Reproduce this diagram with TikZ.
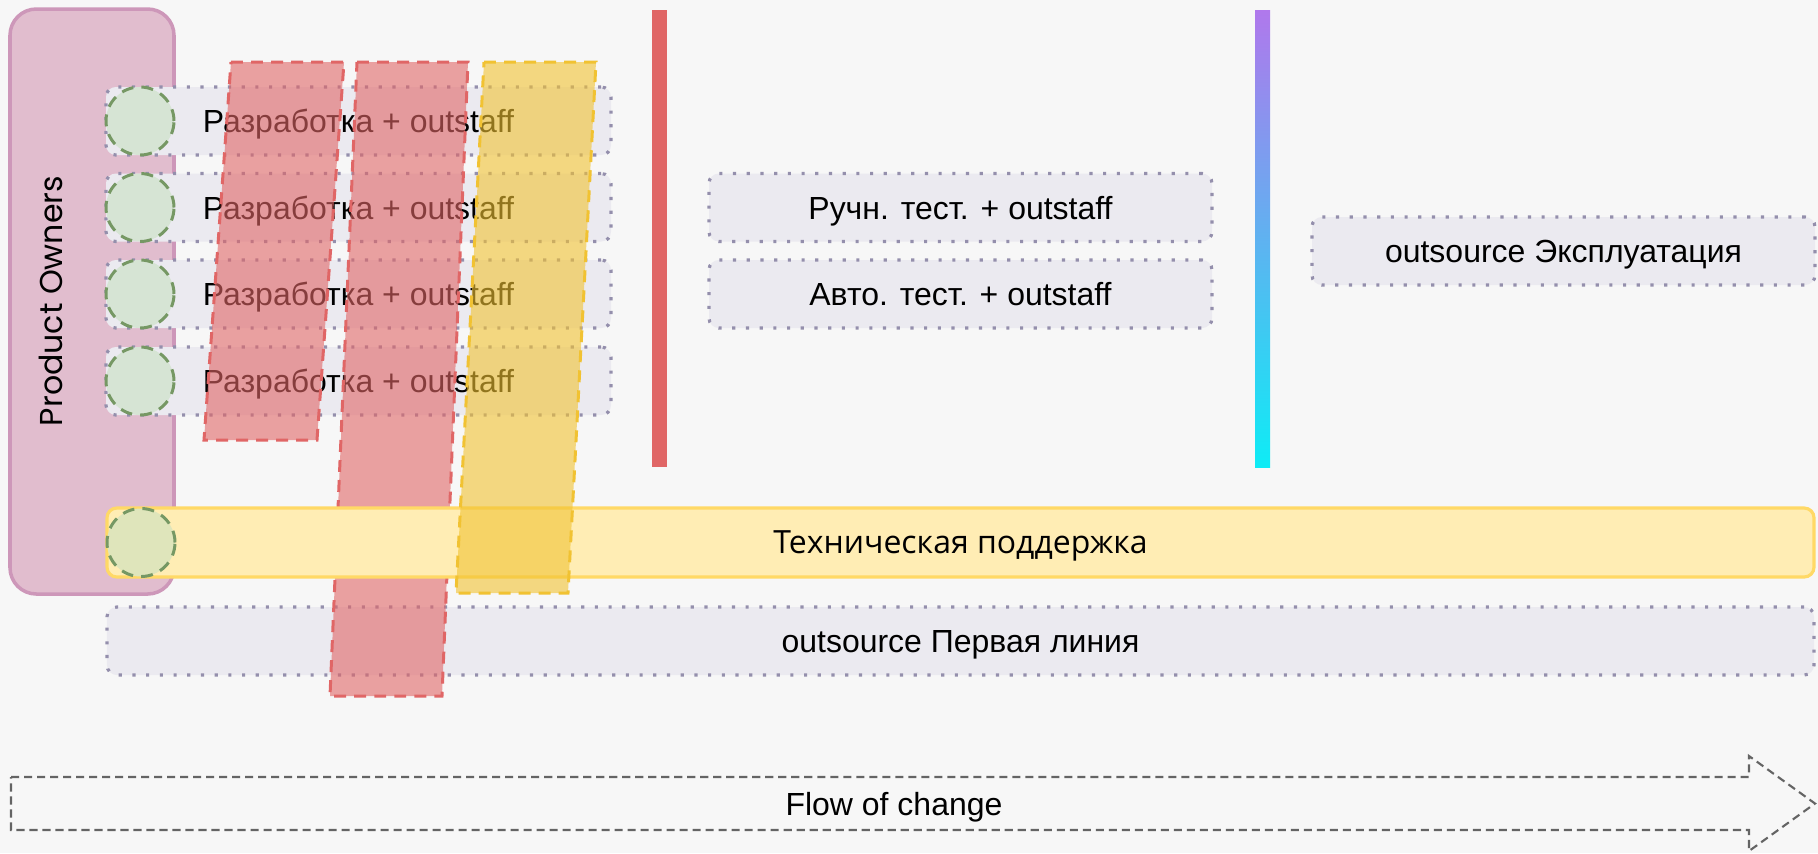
\documentclass[tikz,border=0pt]{standalone}
\usepackage{fontspec}
\setmainfont{Liberation Sans}
\newfontfamily\opensans{Open Sans}
\newfontfamily\poppins{Poppins}
\usetikzlibrary{positioning}
\definecolor{paper}{RGB}{247,247,247}
\definecolor{pofill}{RGB}{225,189,206}
\definecolor{poline}{RGB}{205,151,185}
\definecolor{teamfill}{RGB}{235,234,240}
\definecolor{teamline}{RGB}{148,143,172}
\definecolor{ownfill}{RGB}{214,228,212}
\definecolor{ownline}{RGB}{118,152,100}
\definecolor{lanered}{RGB}{224,102,102}
\definecolor{laneyellow}{RGB}{241,194,50}
\definecolor{supfill}{RGB}{255,237,180}
\definecolor{supline}{RGB}{255,217,102}
\definecolor{flowline}{RGB}{100,100,100}
\definecolor{gradtop}{RGB}{176,120,236}
\definecolor{gradbot}{RGB}{14,236,245}
\tikzset{
  every node/.style={inner sep=0pt, outer sep=0pt, text depth=0pt, font=\fontsize{9.1}{11}\selectfont},
  pobox/.style={rectangle, rounded corners=7.5pt, fill=pofill, draw=poline, line width=1pt},
  team/.style={rectangle, rounded corners=2.8pt, fill=teamfill, draw=teamline,
    line width=0.9pt, dash pattern=on 0.9pt off 3pt, minimum height=0.68cm},
  owner/.style={circle, fill=ownfill, draw=ownline, line width=0.85pt,
    dash pattern=on 3.4pt off 2.3pt, minimum size=0.68cm},
  lane/.style={line width=0.85pt, dash pattern=on 3.4pt off 2.3pt, fill opacity=0.6},
  support/.style={rectangle, rounded corners=2.8pt, fill=supfill, draw=supline,
    line width=0.9pt, minimum width=17.07cm, minimum height=0.69cm},
  flow/.style={draw=flowline, line width=0.6pt, dash pattern=on 2.3pt off 1.4pt}
  }

\begin{document}
\begin{tikzpicture}

    \useasboundingbox (0,0) rectangle (18.18,-8.53);
    \fill[paper] (0,0) rectangle (18.18,-8.53);

    \node [pobox, minimum width=1.64cm, minimum height=5.85cm] at (0.92,-3.015) (po) {};
    \node [rotate=90, font=\poppins\fontsize{9}{11}\selectfont] at (0.51,-3.01) (polabel) {Product Owners};

    % development teams with their owners
    \foreach \i/\y in {1/1.21, 2/2.075, 3/2.94, 4/3.81} {
      \node [team, minimum width=5.05cm] at (3.585,-\y) (dev\i) {Разработка + outstaff};
    }
    \node [team, minimum width=5.03cm] at (9.605,-2.075) (manual) {Ручн. тест. + outstaff};
    \node [team, minimum width=5.03cm] at (9.605,-2.94) (auto) {Авто. тест. + outstaff};
    \node [team, minimum width=5.03cm] at (15.635,-2.51) (ops) {outsource Эксплуатация};
    \node [team, minimum width=17.07cm] at (9.605,-6.41) (firstline) {outsource Первая линия};

    \foreach \i in {1,...,4} {
      \node [owner] at (dev\i.west) [xshift=0.34cm] (own\i) {};
    }

    % stage borders
    \fill[lanered] (6.52,-0.10) rectangle (6.67,-4.67);
    \shade[top color=gradtop, bottom color=gradbot] (12.55,-0.10) rectangle (12.70,-4.67);

    \draw[lane, draw=lanered, fill=lanered] (2.31,-0.62) -- (3.44,-0.62) -- (3.17,-4.40) -- (2.04,-4.40) -- cycle;
    \draw[lane, draw=lanered, fill=lanered] (3.57,-0.62) -- (4.68,-0.62) -- (4.42,-6.96) -- (3.30,-6.96) -- cycle;

    \node [support] at (9.605,-5.425) (tech) {\opensans Техническая поддержка};
    \node [owner, fill={rgb,255:red,223;green,229;blue,187}] at (tech.west) [xshift=0.34cm] (owntech) {};

    \draw[lane, draw=laneyellow, fill=laneyellow] (4.84,-0.62) -- (5.96,-0.62) -- (5.68,-5.93) -- (4.56,-5.93) -- cycle;

    % flow arrow along the bottom
    \draw[flow] (0.11,-7.77) -- (17.49,-7.77) -- (17.49,-7.56) -- (18.15,-8.035)
      -- (17.49,-8.51) -- (17.49,-8.30) -- (0.11,-8.30) -- cycle;
    \node at (8.94,-8.04) (flowlabel) {Flow of change};

  \end{tikzpicture}
\end{document}
